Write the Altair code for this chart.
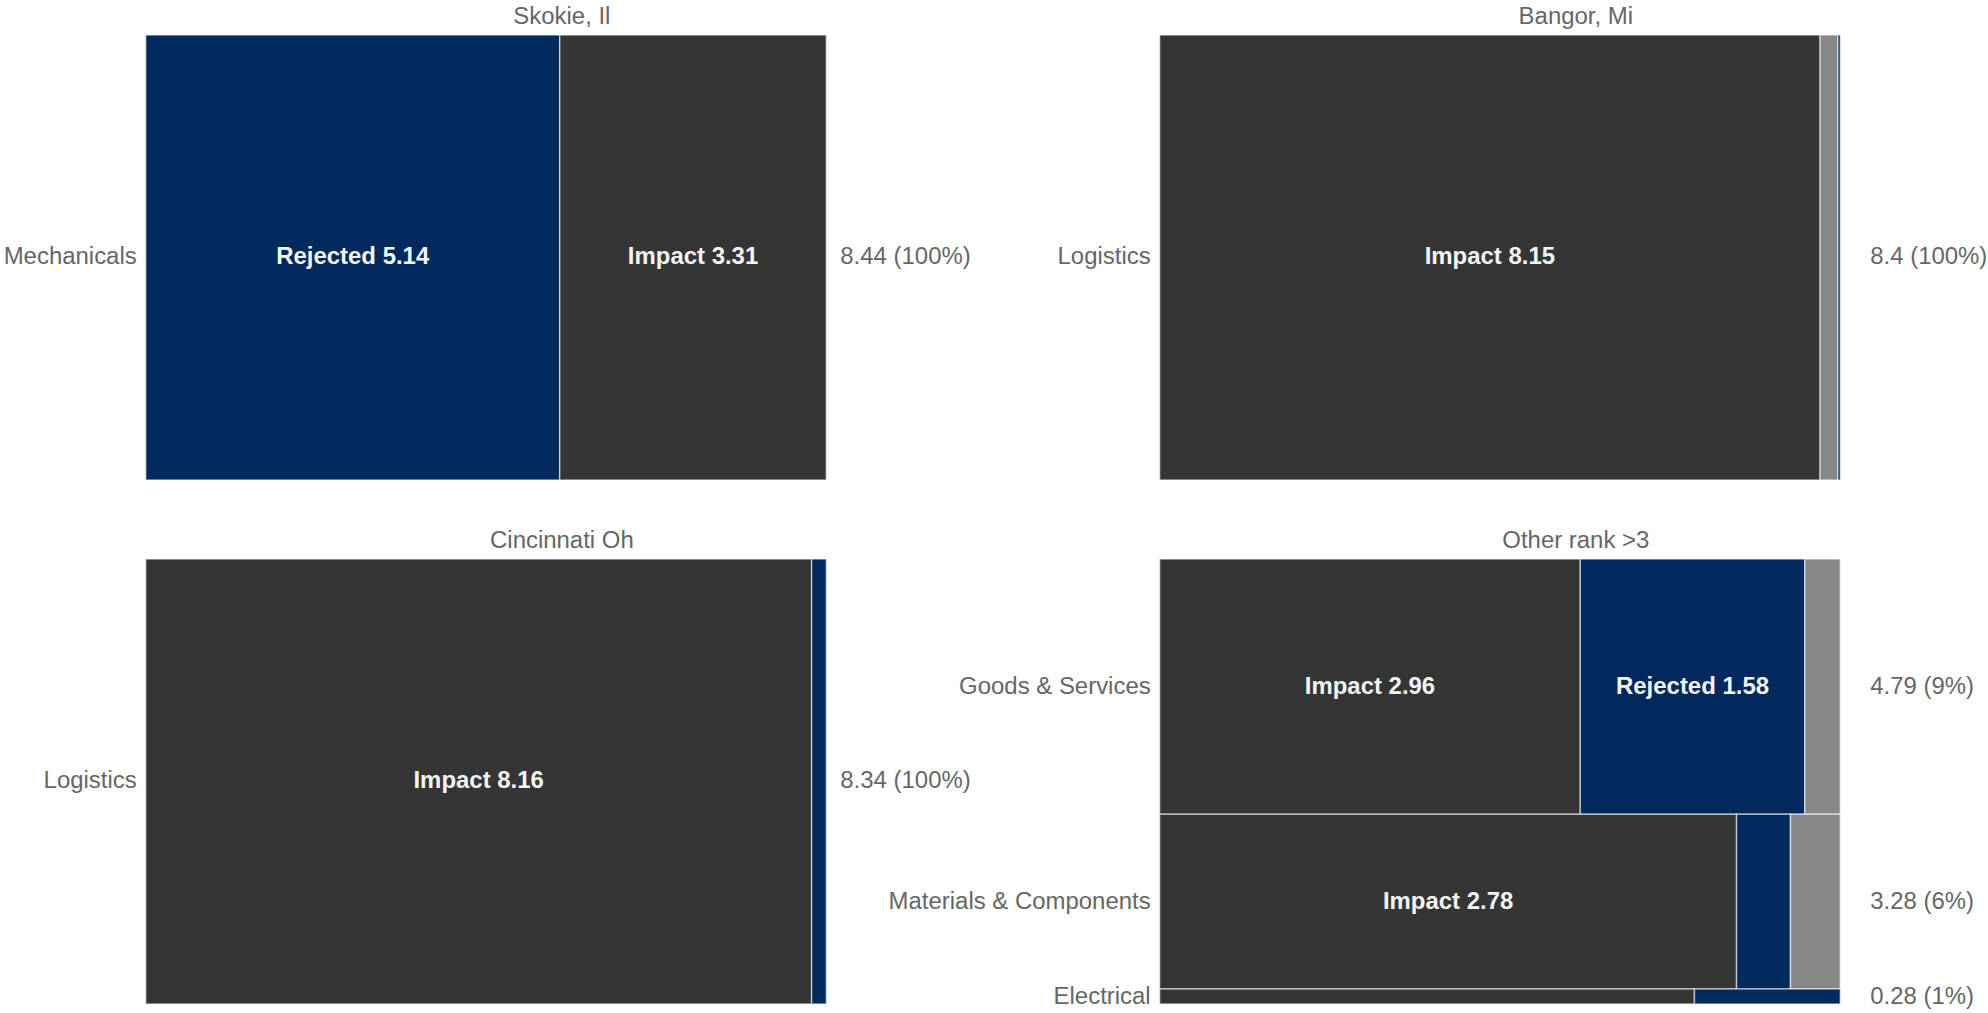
import altair as alt
import pandas as pd

# ---- data ----
panels = ["Skokie, Il", "Bangor, Mi", "Cincinnati Oh", "Other rank >3"]

seg_panel = ["Skokie, Il", "Skokie, Il",
             "Bangor, Mi", "Bangor, Mi", "Bangor, Mi",
             "Cincinnati Oh", "Cincinnati Oh",
             "Other rank >3", "Other rank >3", "Other rank >3",
             "Other rank >3", "Other rank >3", "Other rank >3",
             "Other rank >3", "Other rank >3"]
seg_row = ["Mechanicals", "Mechanicals",
           "Logistics", "Logistics", "Logistics",
           "Logistics", "Logistics",
           "Goods & Services", "Goods & Services", "Goods & Services",
           "Materials & Components", "Materials & Components", "Materials & Components",
           "Electrical", "Electrical"]
seg_type = ["Rejected", "Impact",
            "Impact", "Other", "Rejected",
            "Impact", "Rejected",
            "Impact", "Rejected", "Other",
            "Impact", "Rejected", "Other",
            "Impact", "Rejected"]
seg_value = [5.14, 3.31,
             8.15, 0.22, 0.03,
             8.16, 0.18,
             2.96, 1.58, 0.25,
             2.78, 0.26, 0.24,
             0.22, 0.06]

row_panel = ["Skokie, Il", "Bangor, Mi", "Cincinnati Oh",
             "Other rank >3", "Other rank >3", "Other rank >3"]
row_name = ["Mechanicals", "Logistics", "Logistics",
            "Goods & Services", "Materials & Components", "Electrical"]
row_total_label = ["8.44 (100%)", "8.4 (100%)", "8.34 (100%)",
                   "4.79 (9%)", "3.28 (6%)", "0.28 (1%)"]

seg_types = ["Impact", "Rejected", "Other"]
seg_colors = ["#353535", "#01295c", "#878787"]

FONT = "Liberation Sans"
TXT = "#666666"

# ---- derived tables (mekko geometry in data units) ----
segs = pd.DataFrame({"panel": seg_panel, "row": seg_row, "seg": seg_type, "value": seg_value})
rows = pd.DataFrame({"panel": row_panel, "row": row_name, "total_label": row_total_label})
rows["rtotal"] = [segs[(segs.panel == p) & (segs.row == r)].value.sum() for p, r in zip(row_panel, row_name)]
rows["y0"] = rows.groupby("panel")["rtotal"].cumsum() - rows["rtotal"]
rows["y1"] = rows["y0"] + rows["rtotal"]
rows["yc"] = (rows["y0"] + rows["y1"]) / 2
ptot = rows.groupby("panel")["rtotal"].sum()
rows["share"] = rows["rtotal"] / rows["panel"].map(ptot)

segs = segs.merge(rows[["panel", "row", "rtotal", "y0", "y1", "yc", "share"]], on=["panel", "row"])
segs["c1"] = segs.groupby(["panel", "row"])["value"].cumsum()
segs["x0"] = (segs["c1"] - segs["value"]) / segs["rtotal"]
segs["x1"] = segs["c1"] / segs["rtotal"]
segs["xm"] = (segs["x0"] + segs["x1"]) / 2
segs["frac"] = segs["value"] / segs["rtotal"]
segs["label"] = [f"{t} {v:.2f}" if (f > 0.15 and s > 0.3) else ""
                 for t, v, f, s in zip(segs.seg, segs.value, segs.frac, segs.share)]

W, H = 682, 446


def panel(name, total_dx):
    d = segs[segs.panel == name]
    r = rows[rows.panel == name]
    total = float(ptot[name])
    xs = alt.Scale(domain=[0, 1], nice=False, zero=True)
    ys = alt.Scale(domain=[0, total], nice=False, zero=True, reverse=True)

    rect = alt.Chart(d).mark_rect(stroke="#ffffff", strokeOpacity=0.55, strokeWidth=1.5).encode(
        x=alt.X("x0:Q", scale=xs, axis=None),
        x2="x1:Q",
        y=alt.Y("y0:Q", scale=ys, axis=None),
        y2="y1:Q",
        color=alt.Color("seg:N", scale=alt.Scale(domain=seg_types, range=seg_colors), legend=None),
    )
    seg_text = alt.Chart(d).transform_filter("datum.label != ''").mark_text(
        font=FONT, fontSize=24, fontWeight="bold", color="#f4f4f4", baseline="middle"
    ).encode(
        x=alt.X("xm:Q", scale=xs, axis=None),
        y=alt.Y("yc:Q", scale=ys, axis=None),
        text="label:N",
    )
    row_text = alt.Chart(r).mark_text(
        font=FONT, fontSize=24, color=TXT, align="right", baseline="middle", dx=-9
    ).encode(
        x=alt.value(0),
        y=alt.Y("yc:Q", scale=ys, axis=None),
        text="row:N",
    )
    tot_text = alt.Chart(r).mark_text(
        font=FONT, fontSize=24, color=TXT, align="left", baseline="middle", dx=total_dx
    ).encode(
        x=alt.value(W),
        y=alt.Y("yc:Q", scale=ys, axis=None),
        text="total_label:N",
    )
    return alt.layer(rect, seg_text, row_text, tot_text).properties(
        width=W, height=H,
        title=alt.TitleParams(name, font=FONT, fontSize=24, fontWeight="normal", color=TXT,
                              anchor="middle", dx=76, offset=-14, baseline="alphabetic"),
    )


chart = alt.concat(
    panel(panels[0], 14), panel(panels[1], 30),
    panel(panels[2], 14), panel(panels[3], 30),
    columns=2,
    spacing=alt.RowColnumber(row=79, column=334),
    bounds="flush",
).properties(
    padding={"left": 3, "top": 4, "right": 0, "bottom": 0},
    background="#ffffff",
).configure_view(strokeWidth=0)

chart.save("out.html", embed_options={"renderer": "svg", "actions": False})
